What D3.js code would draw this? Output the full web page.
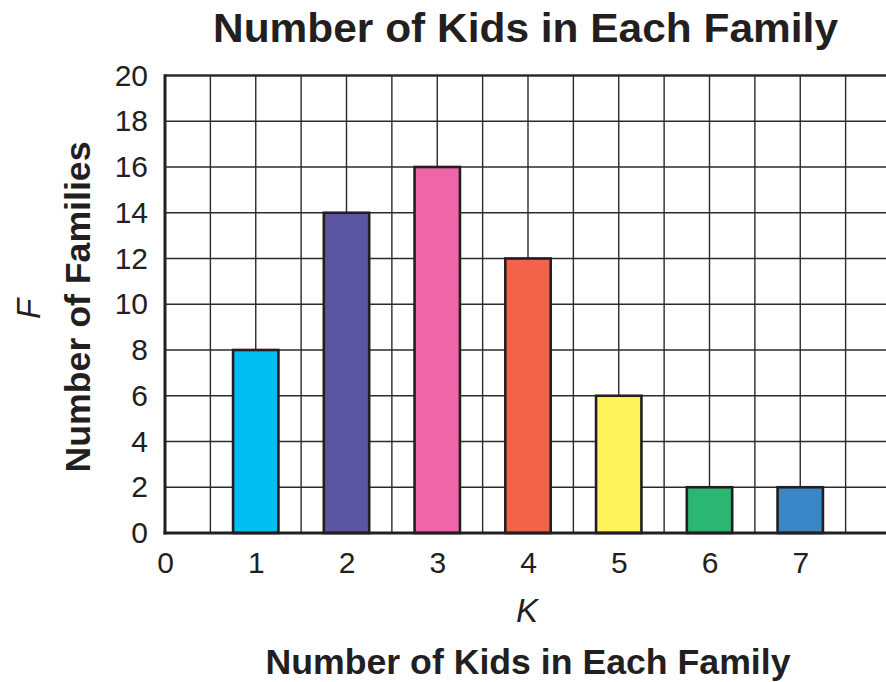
<!DOCTYPE html>
<html>
<head>
<meta charset="utf-8">
<script src="https://cdn.jsdelivr.net/npm/d3@7"></script>
<style>
  html, body { margin: 0; padding: 0; background: #fff; }
  svg { display: block; font-family: "Liberation Sans", Arial, Helvetica, sans-serif; }
</style>
</head>
<body>
<svg id="chart" width="886" height="682"></svg>
<script>
// ---- data ----
const kids = [1, 2, 3, 4, 5, 6, 7];
const families = [8, 14, 16, 12, 6, 2, 2];
const barColors = ["#00BEF2", "#5B55A3", "#F065A8", "#F26449", "#FFF35C", "#2BB673", "#3A87C8"];
const xTicks = [0, 1, 2, 3, 4, 5, 6, 7];
const yTicks = [0, 2, 4, 6, 8, 10, 12, 14, 16, 18, 20];
const title = "Number of Kids in Each Family";
const xVar = "K";
const xLabel = "Number of Kids in Each Family";
const yVar = "F";
const yLabel = "Number of Families";

const svg = d3.select("#chart");
const plotLeft = 165, plotTop = 75.5, plotBottom = 533, unit = 90.75;
const x = d3.scaleLinear().domain([0, 8]).range([plotLeft, plotLeft + 8 * unit]);
const y = d3.scaleLinear().domain([0, 20]).range([plotBottom, plotTop]);

const gridColor = "#2b2b2b";
// vertical grid lines every half unit
const vLines = d3.range(1, 16).map(d => d / 2);
svg.append("g").selectAll("line").data(vLines).join("line")
  .attr("x1", d => x(d)).attr("x2", d => x(d))
  .attr("y1", y(20)).attr("y2", y(0))
  .attr("stroke", gridColor).attr("stroke-width", 1.4);
// horizontal grid lines
svg.append("g").selectAll("line").data(yTicks.filter(d => d > 0 && d < 20)).join("line")
  .attr("x1", x(0)).attr("x2", 886)
  .attr("y1", d => y(d)).attr("y2", d => y(d))
  .attr("stroke", gridColor).attr("stroke-width", 1.4);
// top border
svg.append("line").attr("x1", x(0)).attr("x2", 886).attr("y1", y(20)).attr("y2", y(20))
  .attr("stroke", gridColor).attr("stroke-width", 2.6);

// bars
const bw = unit / 2;
svg.append("g").selectAll("rect").data(kids).join("rect")
  .attr("x", (d) => x(d) - bw / 2)
  .attr("y", (d, i) => y(families[i]))
  .attr("width", bw)
  .attr("height", (d, i) => y(0) - y(families[i]))
  .attr("fill", (d, i) => barColors[i])
  .attr("stroke", "#231f20").attr("stroke-width", 2.6);

// axes lines
svg.append("line").attr("x1", x(0)).attr("x2", x(0)).attr("y1", y(20) - 1.3).attr("y2", y(0) + 1.5)
  .attr("stroke", "#231f20").attr("stroke-width", 3);
svg.append("line").attr("x1", x(0) - 1.5).attr("x2", 886).attr("y1", y(0)).attr("y2", y(0))
  .attr("stroke", "#231f20").attr("stroke-width", 3);

// tick labels via d3 axes
const yAxis = d3.axisLeft(y).tickValues(yTicks).tickSize(0).tickPadding(17).tickFormat(d3.format("d"));
const gy = svg.append("g").attr("transform", `translate(${x(0)},0)`).call(yAxis);
gy.select(".domain").remove();
gy.selectAll("text").attr("font-size", 30).attr("fill", "#231f20")
  .attr("font-family", "Liberation Sans, Arial, sans-serif");

const xAxis = d3.axisBottom(x).tickValues(xTicks).tickSize(0).tickPadding(19).tickFormat(d3.format("d"));
const gx = svg.append("g").attr("transform", `translate(0,${y(0)})`).call(xAxis);
gx.select(".domain").remove();
gx.selectAll("text").attr("font-size", 30).attr("fill", "#231f20")
  .attr("font-family", "Liberation Sans, Arial, sans-serif");

// title
svg.append("text").attr("x", 525.5).attr("y", 42).attr("text-anchor", "middle")
  .attr("font-size", 41).attr("font-weight", "bold").attr("fill", "#231f20")
  .attr("textLength", 625).attr("lengthAdjust", "spacingAndGlyphs")
  .text(title);

// x variable & label
svg.append("text").attr("x", 527).attr("y", 622).attr("text-anchor", "middle")
  .attr("font-size", 33).attr("font-style", "italic").attr("fill", "#231f20")
  .text(xVar);
svg.append("text").attr("x", 528).attr("y", 674).attr("text-anchor", "middle")
  .attr("font-size", 35).attr("font-weight", "bold").attr("fill", "#231f20")
  .attr("textLength", 525).attr("lengthAdjust", "spacingAndGlyphs")
  .text(xLabel);

// y variable & label
svg.append("text").attr("transform", "translate(40,309) rotate(-90)").attr("text-anchor", "middle")
  .attr("font-size", 33).attr("font-style", "italic").attr("fill", "#231f20")
  .text(yVar);
svg.append("text").attr("transform", "translate(90,307) rotate(-90)").attr("text-anchor", "middle")
  .attr("font-size", 35).attr("font-weight", "bold").attr("fill", "#231f20")
  .attr("textLength", 331).attr("lengthAdjust", "spacingAndGlyphs")
  .text(yLabel);
</script>
</body>
</html>
